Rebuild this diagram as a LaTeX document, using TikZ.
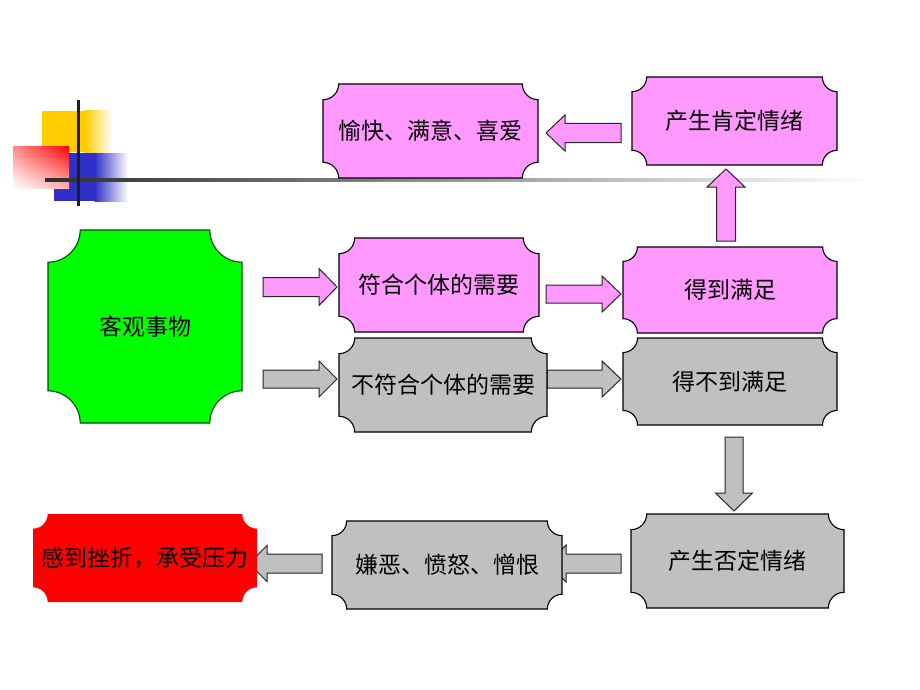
\documentclass[tikz,border=0pt]{standalone}
\usepackage{fontspec}
\usetikzlibrary{shadings}
\newfontfamily\cjk{Noto Sans CJK SC}
\definecolor{pinkc}{HTML}{FF99FF}
\definecolor{grayc}{HTML}{C0C0C0}
\definecolor{greenc}{HTML}{00FF00}
\definecolor{redc}{HTML}{FF0000}
\definecolor{yellowc}{HTML}{FFCC00}
\definecolor{bluec}{HTML}{3030C8}
\tikzset{
  boxtext/.style={font=\cjk\fontsize{23}{27}\selectfont, text=black, inner sep=0pt},
  boxline/.style={draw=black, line width=1.1pt},
  pinkarrow/.style={fill=pinkc, draw=black!85, line width=1pt},
  grayarrow/.style={fill=grayc, draw=black!85, line width=1pt},
}
% name, x1, y1, x2, y2, fill, extra path options, text
\newcommand\plaque[8]{%
  \pgfmathsetmacro\pr{0.1667*min(#4-#2,#5-#3)}%
  \pgfmathsetmacro\pk{0.5523*\pr}%
  \path[fill=#6,#7] ({#2+\pr},#3) -- ({#4-\pr},#3)
    .. controls ({#4-\pr},{#3+\pk}) and ({#4-\pk},{#3+\pr}) .. (#4,{#3+\pr})
    -- (#4,{#5-\pr})
    .. controls ({#4-\pk},{#5-\pr}) and ({#4-\pr},{#5-\pk}) .. ({#4-\pr},#5)
    -- ({#2+\pr},#5)
    .. controls ({#2+\pr},{#5-\pk}) and ({#2+\pk},{#5-\pr}) .. (#2,{#5-\pr})
    -- (#2,{#3+\pr})
    .. controls ({#2+\pk},{#3+\pr}) and ({#2+\pr},{#3+\pk}) .. ({#2+\pr},#3)
    -- cycle;
  \node[boxtext] (#1) at ({(#2+#4)/2},{(#3+#5)/2}) {#8};%
}
% style, x tail, x head base, x tip, y centre, shaft half, head half
\newcommand\harrow[7]{%
  \draw[#1] (#2,{#5-#6}) -- (#3,{#5-#6}) -- (#3,{#5-#7}) -- (#4,#5)
    -- (#3,{#5+#7}) -- (#3,{#5+#6}) -- (#2,{#5+#6}) -- cycle;}
% style, y tail, y head base, y tip, x centre, shaft half, head half
\newcommand\varrow[7]{%
  \draw[#1] ({#5-#6},#2) -- ({#5-#6},#3) -- ({#5-#7},#3) -- (#5,#4)
    -- ({#5+#7},#3) -- ({#5+#6},#3) -- ({#5+#6},#2) -- cycle;}
\begin{document}
\begin{tikzpicture}[x=1pt,y=-1pt]
\useasboundingbox (0,0) rectangle (920,690);
\fill[white] (0,0) rectangle (920,690);
% decoration
\fill[yellowc] (42,111) rectangle (85,152);
\shade[left color=yellowc, right color=white] (84.5,111) rectangle (112,152);
\fill[bluec] (54,153) rectangle (95,201);
\shade[left color=bluec, right color=white] (94.5,153) rectangle (128,201);
\shade[upper right=redc, upper left=redc!45!white, lower left=white, lower right=redc!30!white] (13,146) rectangle (69,188);
\shade[left color=black!82, right color=white] (45,178.6) rectangle (870,181.6);
\draw[black!88, line width=3pt] (78,100) -- (78,206);
% arrows
\harrow{pinkarrow}{621}{565}{546}{133}{9.5}{18}
\varrow{pinkarrow}{241}{187}{169}{726}{9.5}{19}
\harrow{pinkarrow}{263}{319}{337}{287}{9.5}{18.5}
\harrow{pinkarrow}{546}{602}{621}{294}{9}{18}
\harrow{grayarrow}{263}{319}{337}{379}{9}{18}
\harrow{grayarrow}{547}{602}{621}{379}{9}{18}
\varrow{grayarrow}{437}{493}{511}{734}{9}{18.5}
\harrow{grayarrow}{621}{566}{548}{563.5}{9.5}{18.5}
\harrow{grayarrow}{322}{267}{249}{563.5}{9.5}{18}
% boxes
\plaque{joy}{323}{84}{538}{178}{pinkc}{boxline}{愉快、满意、喜爱}
\plaque{pos}{632}{77}{837}{165}{pinkc}{boxline}{产生肯定情绪}
\plaque{obj}{48}{230}{242}{423}{greenc}{draw=black!70!green, line width=1.1pt}{客观事物}
\plaque{fit}{339}{238}{539}{332}{pinkc}{boxline}{符合个体的需要}
\plaque{sat}{623}{247}{837}{333}{pinkc}{boxline}{得到满足}
\plaque{unfit}{339}{338}{547}{432}{grayc}{boxline}{不符合个体的需要}
\plaque{unsat}{623}{338}{837}{425}{grayc}{boxline}{得不到满足}
\plaque{neg}{631}{514}{844}{608}{grayc}{boxline}{产生否定情绪}
\plaque{anger}{332}{521}{562}{609}{grayc}{boxline}{嫌恶、愤怒、憎恨}
\plaque{stress}{33}{514}{257}{602}{redc}{}{感到挫折，承受压力}
\end{tikzpicture}
\end{document}
